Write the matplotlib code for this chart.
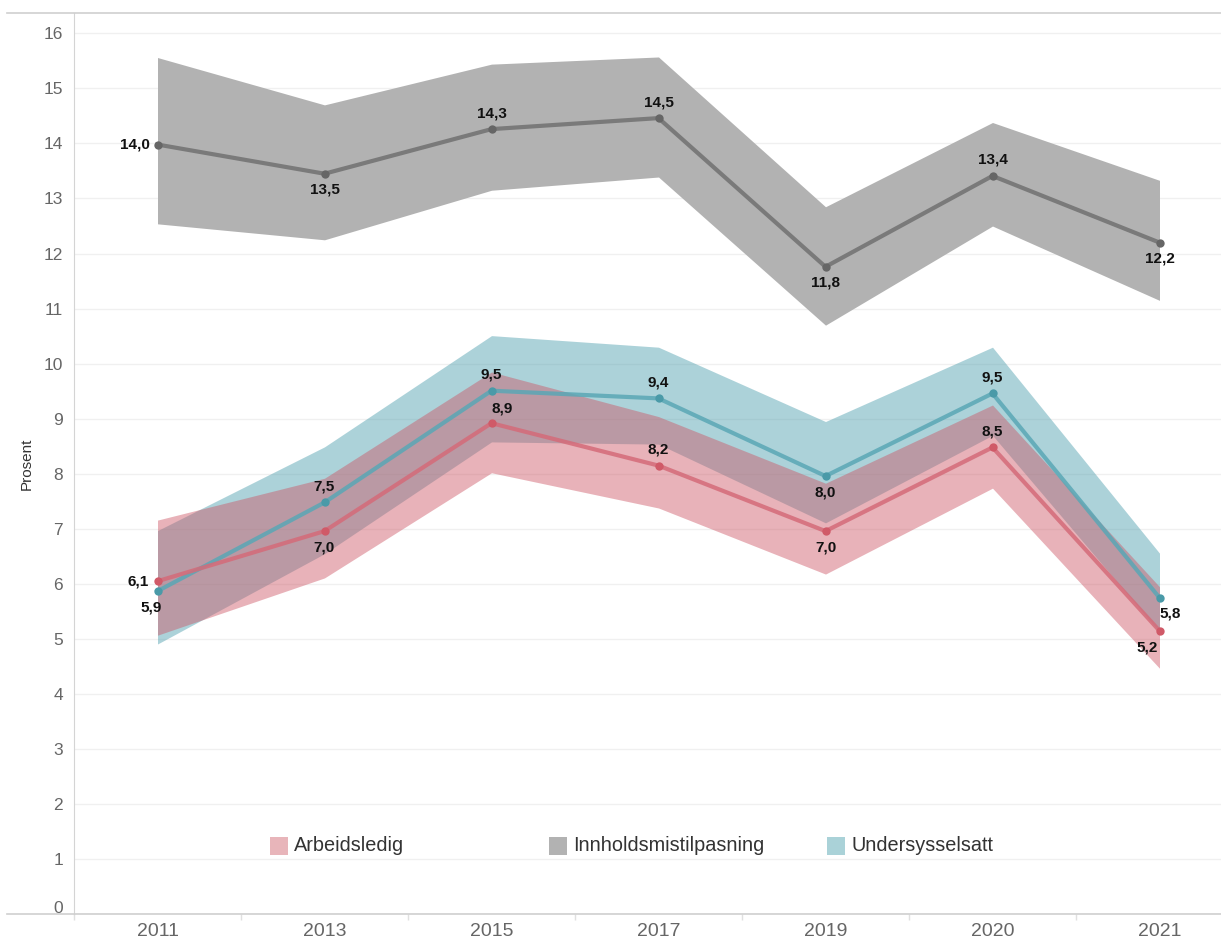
import numpy as np
import matplotlib.pyplot as plt
from matplotlib.lines import Line2D
from matplotlib.patches import Rectangle
from matplotlib.transforms import ScaledTranslation

plt.rcParams['font.family'] = ['Liberation Sans', 'DejaVu Sans']

# --- data ---
years = ['2011', '2013', '2015', '2017', '2019', '2020', '2021']

innhold = [13.98, 13.45, 14.26, 14.46, 11.76, 13.41, 12.20]
innhold_hi = [15.56, 14.70, 15.44, 15.57, 12.85, 14.38, 13.33]
innhold_lo = [12.54, 12.25, 13.15, 13.39, 10.70, 12.50, 11.15]

under = [5.87, 7.48, 9.51, 9.37, 7.96, 9.46, 5.75]
under_hi = [6.97, 8.49, 10.51, 10.30, 8.95, 10.30, 6.56]
under_lo = [4.91, 6.55, 8.58, 8.54, 7.11, 8.70, 5.13]

arbeid = [6.05, 6.96, 8.92, 8.15, 6.96, 8.48, 5.15]
arbeid_hi = [7.16, 7.92, 9.85, 9.04, 7.83, 9.25, 5.95]
arbeid_lo = [5.07, 6.11, 8.02, 7.38, 6.18, 7.74, 4.47]

innhold_lbl = ['14,0', '13,5', '14,3', '14,5', '11,8', '13,4', '12,2']
under_lbl = ['5,9', '7,5', '9,5', '9,4', '8,0', '9,5', '5,8']
arbeid_lbl = ['6,1', '7,0', '8,9', '8,2', '7,0', '8,5', '5,2']

# label placement: (dx, dy, ha) in pixels
innhold_pos = [(-8, 0, 'right'), (0, -16, 'center'), (0, 16, 'center'), (0, 16, 'center'),
               (0, -16, 'center'), (0, 16, 'center'), (0, -16, 'center')]
under_pos = [(-6, -16, 'center'), (0, 16, 'center'), (0, 16, 'center'), (0, 16, 'center'),
             (0, -16, 'center'), (0, 16, 'center'), (0, -16, 'left')]
arbeid_pos = [(-9, 0, 'right'), (0, -16, 'center'), (0, 15, 'left'), (0, 16, 'center'),
              (0, -16, 'center'), (0, 16, 'center'), (-2, -17, 'right')]

# --- figure ---
W, H = 1221, 941
fig = plt.figure(figsize=(W / 100, H / 100), dpi=100)
ax = fig.add_axes([74 / W, (H - 914.4) / H, 1 - 74 / W, (914.4 - 13.3) / H])

x = np.arange(len(years))

# bands
ax.fill_between(x, innhold_lo, innhold_hi, color='#b2b2b2', lw=0, zorder=2)
ax.fill_between(x, under_lo, under_hi, color='#50a0af', alpha=0.47, lw=0, zorder=2)
ax.fill_between(x, arbeid_lo, arbeid_hi, color='#cd5564', alpha=0.45, lw=0, zorder=2)

# lines
ax.plot(x, innhold, color='#7a7a7a', lw=3, zorder=3)
ax.plot(x, under, color='#5aa7b5', lw=3, alpha=0.85, zorder=3)
ax.plot(x, arbeid, color='#d46b79', lw=3, alpha=0.85, zorder=3)
ax.scatter(x, innhold, s=36, color='#666666', zorder=4, lw=0)
ax.scatter(x, under, s=36, color='#4a9aa8', zorder=4, lw=0)
ax.scatter(x, arbeid, s=36, color='#d05a68', zorder=4, lw=0)

for vals, lbls, pos in [(innhold, innhold_lbl, innhold_pos),
                        (under, under_lbl, under_pos),
                        (arbeid, arbeid_lbl, arbeid_pos)]:
    for i, (v, t, (dx, dy, ha)) in enumerate(zip(vals, lbls, pos)):
        ax.annotate(t, (i, v), xytext=(dx, dy), textcoords='offset pixels',
                    ha=ha, va='center', fontsize=11, fontweight='bold',
                    color='#111111', zorder=5)

# axes styling
ax.set_yticks(range(0, 17))
ax.set_xticks(x)
ax.set_xticklabels(years)
ax.set_xticks(np.arange(-0.5, 7, 1), minor=True)
ax.set_xlim(-0.5, (W - 157.5) / 167)
ax.set_ylim(0, 16.363)
ax.grid(axis='y', color='#f0f0f0', lw=1, zorder=0)
ax.tick_params(axis='y', length=0, pad=8, labelsize=12.5, labelcolor='#666666')
ax.tick_params(axis='x', which='major', length=0, pad=6, labelsize=14, labelcolor='#666666')
ax.tick_params(axis='x', which='minor', length=4, color='#e0e0e0', width=1)
for s in ['top', 'right', 'bottom']:
    ax.spines[s].set_visible(False)
ax.spines['left'].set_color('#d4d4d4')
ax.set_ylabel('Prosent', fontsize=11, color='#333333')
ax.yaxis.set_label_coords(-40 / 1147, 0.5)

t0 = ax.yaxis.get_major_ticks()[0].label1
t0.set_transform(t0.get_transform() + ScaledTranslation(0, 7 / 100, fig.dpi_scale_trans))

# frame lines spanning past the axis
for yy in [914.4, 13.3]:
    fig.add_artist(Line2D([7 / W, 1], [(H - yy) / H] * 2, color='#cfcfcf', lw=1.2))

# legend
names = ['Arbeidsledig', 'Innholdsmistilpasning', 'Undersysselsatt']
leg_colors = ['#e8b5ba', '#b2b2b2', '#aad2d8']
leg_x = [270, 549, 827]
for nm, c, lx in zip(names, leg_colors, leg_x):
    fig.add_artist(Rectangle((lx / W, (H - 854.5) / H), 18 / W, 17.5 / H,
                             color=c, lw=0, transform=fig.transFigure))
    fig.text((lx + 24) / W, (H - 845.5) / H, nm, fontsize=14.3,
             color='#333333', va='center', ha='left')

fig.savefig('out.png', dpi=100)
